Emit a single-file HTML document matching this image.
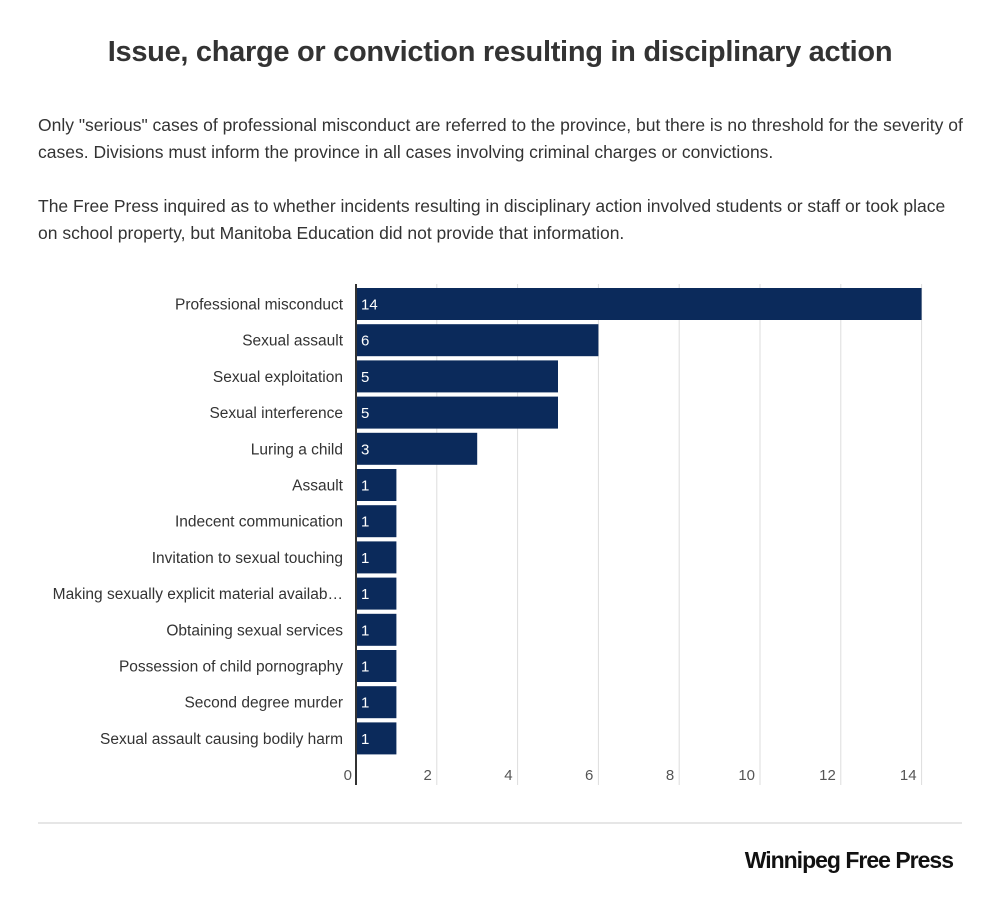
<!DOCTYPE html>
<html><head><meta charset="utf-8"><style>
body{margin:0;background:#fff;font-family:"Liberation Sans",sans-serif;}
#wrap{position:relative;width:1000px;height:901px;overflow:hidden;}
h1{position:absolute;left:0;width:1000px;top:36px;margin:0;text-align:center;font-size:29px;font-weight:bold;color:#333;letter-spacing:-0.3px;}
p{position:absolute;left:38px;width:930px;margin:0;font-size:17.5px;line-height:27px;color:#333;}
</style></head><body>
<div id="wrap">
<h1>Issue, charge or conviction resulting in disciplinary action</h1>
<p style="top:112px">Only "serious" cases of professional misconduct are referred to the province, but there is no threshold for the severity of cases. Divisions must inform the province in all cases involving criminal charges or convictions.</p>
<p style="top:193px">The Free Press inquired as to whether incidents resulting in disciplinary action involved students or staff or took place on school property, but Manitoba Education did not provide that information.</p>
<svg id="chart" width="1000" height="901" style="position:absolute;left:0;top:0"></svg>
</div>
<script>
const categories=["Professional misconduct","Sexual assault","Sexual exploitation","Sexual interference","Luring a child","Assault","Indecent communication","Invitation to sexual touching","Making sexually explicit material availab…","Obtaining sexual services","Possession of child pornography","Second degree murder","Sexual assault causing bodily harm"];
const values=[14,6,5,5,3,1,1,1,1,1,1,1,1];
const ticks=[0,2,4,6,8,10,12,14];
const NS="http://www.w3.org/2000/svg";
const svg=document.getElementById('chart');
const x0=356,pxPer=40.4,top0=286,pitch=36.2,barH=32;
const xs=v=>x0+v*pxPer;
const ys=i=>top0+i*pitch;
function mk(t,a){const e=document.createElementNS(NS,t);for(const k in a)e.setAttribute(k,a[k]);svg.appendChild(e);return e;}
ticks.forEach(t=>{
 if(t>0){const g=mk('line',{x1:xs(t),x2:xs(t),y1:284,y2:785,stroke:'#ddd','stroke-width':1});
 
 }
 const l=mk('text',{x:t===0?xs(t)-4:xs(t)-5,y:780,'text-anchor':'end','font-size':15,fill:'#555','font-family':'Liberation Sans'});
 l.textContent=t;
 
 
});
categories.forEach((c,i)=>{
 const y=ys(i)+2;
 const r=mk('rect',{x:x0+1,y:y,width:xs(values[i])-x0-1,height:barH,fill:'#0b2a5b'});
 
 
 const v=mk('text',{x:x0+5,y:y+barH/2+5.5,'font-size':15,fill:'#fff','font-family':'Liberation Sans'});
 v.textContent=values[i];
 
 
 const l=mk('text',{x:343,y:y+barH/2+5.5,'text-anchor':'end','font-size':15.5,fill:'#333','font-family':'Liberation Sans'});
 l.textContent=c;
 
 
});
const ax=mk('line',{x1:x0,x2:x0,y1:284,y2:785,stroke:'#333','stroke-width':2});


const sep=mk('line',{x1:38,x2:962,y1:823,y2:823,stroke:'#ddd','stroke-width':1.5});


const logo=mk('text',{x:953,y:868,'text-anchor':'end','font-size':23,'font-weight':'bold',fill:'#111','font-family':'Liberation Sans','letter-spacing':'-1'});
logo.textContent='Winnipeg Free Press';


</script>
</body></html>
